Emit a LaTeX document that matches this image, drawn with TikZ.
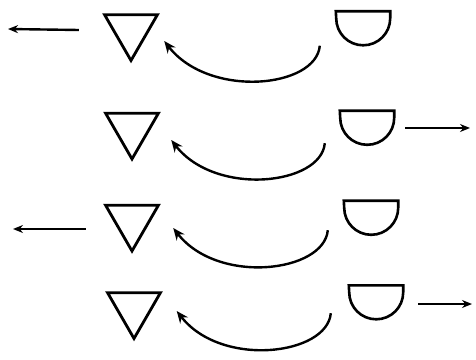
\documentclass[tikz,border=0pt]{standalone}
\usetikzlibrary{shapes.geometric,arrows.meta,calc}
\begin{document}
\begin{tikzpicture}[x=1pt,y=1pt,
  tri/.style={regular polygon,regular polygon sides=3,shape border rotate=180,draw,line width=2.8pt,minimum size=61pt,inner sep=0pt,line join=miter},
  dbox/.style={draw=none,minimum width=54pt,minimum height=34pt,inner sep=0pt},
  dshape/.style={line width=2.6pt},
  curvearrow/.style={-{Stealth[length=12pt,width=10pt]},line width=2.4pt},
  straightarrow/.style={-{Stealth[length=10pt,width=8pt]},line width=2.4pt}]
\path[use as bounding box,fill=white] (0,0) rectangle (476,359);
% triangles
\node[tri] (t1) at (131,329) {};
\node[tri] (t2) at (132,230.5) {};
\node[tri] (t3) at (132,138.5) {};
\node[tri] (t4) at (134,51) {};
% D shapes
\node[dbox] (d1) at (363,330.5) {};
\node[dbox] (d2) at (367,231) {};
\node[dbox] (d3) at (371,141) {};
\node[dbox] (d4) at (376,56.5) {};
\foreach \d in {d1,d2,d3,d4}{
  \draw[dshape] (\d.north west) -- (\d.north east) -- ([yshift=-7pt]\d.north east)
    arc[start angle=0,end angle=-180,radius=27pt] -- cycle;
}
% curved arrows
\tikzset{curvepath/.style={out=-95,in=-52,out looseness=0.7,in looseness=1.2}}
\draw[curvearrow] ([xshift=-16pt]d1.south west) to[curvepath] ([shift={(14pt,-11pt)}]t1.east);
\draw[curvearrow] ([shift={(-15pt,2pt)}]d2.south west) to[curvepath] ([shift={(20pt,-11.5pt)}]t2.east);
\draw[curvearrow] ([shift={(-16pt,5pt)}]d3.south west) to[curvepath] ([shift={(22pt,-7.5pt)}]t3.east);
\draw[curvearrow] ([shift={(-18pt,6.5pt)}]d4.south west) to[curvepath] ([shift={(23.5pt,-3pt)}]t4.east);
% straight arrows
\coordinate (e1) at (8,330);
\coordinate (e2) at (470,231);
\coordinate (e3) at (13,130);
\coordinate (e4) at (472,55);
\draw[straightarrow] ([xshift=-33pt]t1.west) -- (e1);
\draw[straightarrow] ([xshift=11pt]d2.east) -- (e2);
\draw[straightarrow] ([shift={(-27pt,-8.5pt)}]t3.west) -- (e3);
\draw[straightarrow] ([shift={(15pt,-1.5pt)}]d4.east) -- (e4);
\end{tikzpicture}
\end{document}
